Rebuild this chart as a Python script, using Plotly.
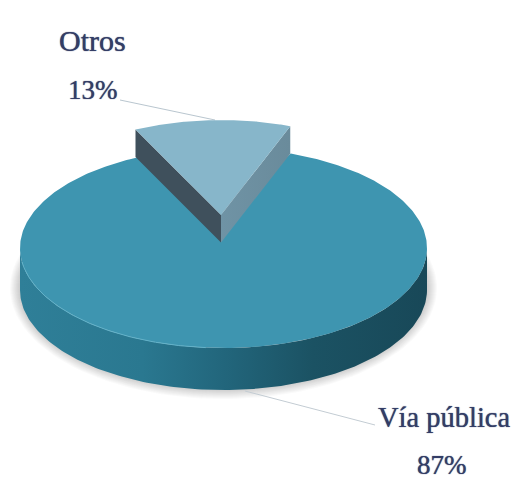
import numpy as np
import plotly.graph_objects as go

categories = ["Otros", "Vía pública"]
values = [13, 87]
percent_labels = ["13%", "87%"]

W, H = 512, 483
TOTAL = sum(values)
START = -26.0                 # degrees, clockwise from the top
SPAN = 360.0 * values[0] / TOTAL
SEAM = 1.5                    # degrees of overlap tucked under the pulled-out slice

CX, CY, RX, RY, DEPTH = 223.5, 248.0, 203.5, 100.0, 42.0
SX, SY, SRX, SRY, SDEPTH = 221.0, 215.0, 195.0, 95.0, 27.5


def arc(a0, a1, cx, cy, rx, ry, n=160):
    a = np.radians(np.linspace(a0, a1, n))
    return cx + rx * np.sin(a), cy - ry * np.cos(a)


fig = go.Figure()


def poly(x, y, color=None, grad=None):
    kw = dict(fillgradient=grad) if grad else dict(fillcolor=color)
    fig.add_trace(go.Scatter(x=list(x), y=list(y), mode="lines", fill="toself",
                             line=dict(width=0, color="rgba(0,0,0,0)"),
                             hoverinfo="skip", showlegend=False, **kw))


def line(x, y, color, width):
    fig.add_trace(go.Scatter(x=list(x), y=list(y), mode="lines",
                             line=dict(color=color, width=width),
                             hoverinfo="skip", showlegend=False))


# soft shadow
for k in range(1, 11):
    x, y = arc(0, 360, CX, CY + 40, RX + 11 - k, RY + 12 - k)
    poly(x, y, f"rgba(90,85,75,{0.028:.3f})")

# main slice: side wall, visible lower half
ex, ey = arc(90, 270, CX, CY, RX, RY)
wx = np.concatenate([ex, ex[::-1]])
wy = np.concatenate([ey, ey[::-1] + DEPTH])
poly(wx, wy, grad=dict(type="horizontal", colorscale=[
    [0.0, "#2f7f98"], [0.3, "#2a7890"], [0.5, "#22667c"],
    [0.72, "#1b5263"], [1.0, "#184858"]]))

# main slice: top face, running from the end of the small slice all the way round
mx, my = arc(START + SPAN - SEAM, START + 360 + SEAM, CX, CY, RX, RY, 400)
poly(np.append(mx, SX), np.append(my, SY), "#3e95b0")

# thin highlight on the front edge
hx, hy = arc(185, 262, CX, CY, RX, RY)
line(hx, hy, "#63b2c9", 1)

# leader lines
line([120, 215], [100, 120], "#b9c6cf", 1)
line([245, 375], [391, 425], "#c3ccd3", 1)

# small slice, pulled out: walls and top
sx, sy = arc(START, START + SPAN, SX, SY, SRX, SRY)
poly([SX, SX, sx[0], sx[0]], [SY, SY + SDEPTH, sy[0] + SDEPTH, sy[0]], "#3f505c")
poly([SX, SX, sx[-1], sx[-1]], [SY, SY + SDEPTH, sy[-1] + SDEPTH, sy[-1]],
     grad=dict(type="horizontal", colorscale=[[0, "#6f93a5"], [1, "#6a8b9b"]]))
poly(np.append(sx, SX), np.append(sy, SY), "#87b6ca")

SHADOW = "0 0 1px #333d66"
for txt, tx, ty, size in [(categories[0], 92.5, 40, 30), (percent_labels[0], 93, 90, 27),
                          (categories[1], 444, 417, 28.5), (percent_labels[1], 442, 465, 27)]:
    fig.add_annotation(x=tx, y=ty, text=txt, showarrow=False,
                       font=dict(family="Liberation Serif, serif", size=size,
                                 color="#333d66", shadow=SHADOW),
                       xanchor="center", yanchor="middle")

axis = dict(visible=False, fixedrange=True)
fig.update_layout(
    width=W, height=H, margin=dict(l=0, r=0, t=0, b=0),
    paper_bgcolor="white", plot_bgcolor="white", showlegend=False,
    xaxis=dict(range=[0, W], **axis),
    yaxis=dict(range=[H, 0], **axis),
)
fig.write_html("out.html", config={"displayModeBar": False},
               post_script="document.body.style.margin='0';document.body.style.overflow='hidden';")
